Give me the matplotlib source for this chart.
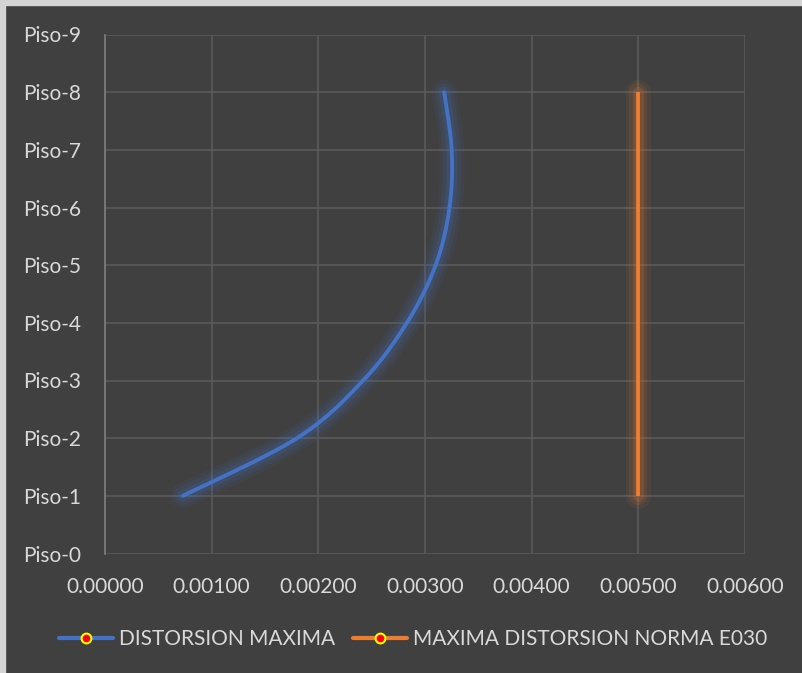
import numpy as np
import matplotlib.pyplot as plt
from matplotlib.lines import Line2D
from matplotlib.patches import Rectangle

plt.rcParams['font.family'] = ['Lato', 'DejaVu Sans']

pisos = ['Piso-0', 'Piso-1', 'Piso-2', 'Piso-3', 'Piso-4',
         'Piso-5', 'Piso-6', 'Piso-7', 'Piso-8', 'Piso-9']
niveles = [1, 2, 3, 4, 5, 6, 7, 8]
distorsion = [0.00073, 0.00180, 0.00242, 0.00283, 0.00310, 0.00323, 0.00325, 0.00318]
limite_e030 = [0.005] * len(niveles)

AZUL = '#4472C4'
NARANJA = '#ED7D31'
FONDO = '#404040'
TEXTO = '#D9D9D9'


def suavizar(xs, ys, sx, sy, n=40):
    # Bezier smoothing through the points (Catmull-Rom style control points)
    p = np.column_stack([np.asarray(xs) * sx, np.asarray(ys) * sy])
    out = [p[0]]
    for i in range(len(p) - 1):
        p0 = p[i - 1] if i > 0 else p[i]
        p1, p2 = p[i], p[i + 1]
        p3 = p[i + 2] if i + 2 < len(p) else p[i + 1]
        c1 = p1 + (p2 - p0) / 6.0
        c2 = p2 - (p3 - p1) / 6.0
        t = np.linspace(0, 1, n)[1:, None]
        seg = ((1 - t) ** 3) * p1 + 3 * ((1 - t) ** 2) * t * c1 + 3 * (1 - t) * t ** 2 * c2 + t ** 3 * p2
        out.extend(seg)
    out = np.array(out)
    return out[:, 0] / sx, out[:, 1] / sy


fig = plt.figure(figsize=(8.03, 6.73), dpi=100)
fig.patch.set_facecolor(FONDO)
# light frame on the top and left edges
fig.add_artist(Rectangle((0, 0), 5 / 803, 1, transform=fig.transFigure, color='#D4D4D4', zorder=0))
fig.add_artist(Rectangle((0, 1 - 5 / 673), 1, 5 / 673, transform=fig.transFigure, color='#D4D4D4', zorder=0))

ax = fig.add_axes([105 / 803, 1 - 553.5 / 673, 640 / 803, 519 / 673])
ax.set_facecolor(FONDO)

ax.set_xlim(0, 0.006)
ax.set_ylim(0, 9)
ax.set_xticks(np.arange(0, 0.0061, 0.001))
ax.set_xticklabels([f'{v:.5f}' for v in np.arange(0, 0.0061, 0.001)])
ax.set_yticks(range(len(pisos)))
ax.set_yticklabels(pisos)
ax.grid(True, color='#5A5A5A', linewidth=1.2)
ax.set_axisbelow(True)
for s in ['top', 'right', 'bottom']:
    ax.spines[s].set_visible(False)
ax.spines['left'].set_color('#7F7F7F')
ax.spines['left'].set_linewidth(1.2)
ax.tick_params(length=0, colors=TEXTO, labelsize=15)
ax.tick_params(axis='x', pad=17)
ax.tick_params(axis='y', pad=0)
for lbl in ax.get_yticklabels():
    lbl.set_horizontalalignment('left')
    lbl.set_x(-82 / 640)

xs, ys = suavizar(distorsion, niveles, 640 / 0.006, 57.6)

# soft glow under each line
for w, a in [(18, 0.07), (13, 0.10), (8, 0.16)]:
    ax.plot(xs, ys, color=AZUL, lw=w, alpha=a, solid_capstyle='round')
    ax.plot(limite_e030, niveles, color=NARANJA, lw=w, alpha=a, solid_capstyle='round')
ax.plot(xs, ys, color=AZUL, lw=2.8, solid_capstyle='round')
ax.plot(limite_e030, niveles, color=NARANJA, lw=2.8, solid_capstyle='butt')

handles = [
    Line2D([], [], color=AZUL, lw=3, marker='o', markersize=7,
           markerfacecolor='#FF0000', markeredgecolor='#FFFF00', markeredgewidth=1.5,
           solid_capstyle='round'),
    Line2D([], [], color=NARANJA, lw=3, marker='o', markersize=7,
           markerfacecolor='#FF0000', markeredgecolor='#FFFF00', markeredgewidth=1.5,
           solid_capstyle='round'),
]
fig.legend(handles, ['DISTORSION MAXIMA', 'MAXIMA DISTORSION NORMA E030'],
           loc='center', bbox_to_anchor=(413 / 803, 1 - 639 / 673), ncol=2,
           frameon=False, fontsize=15, labelcolor=TEXTO, handlelength=2.6,
           handletextpad=0.3, columnspacing=0.85)

fig.savefig('out.png', dpi=100, facecolor=FONDO)
